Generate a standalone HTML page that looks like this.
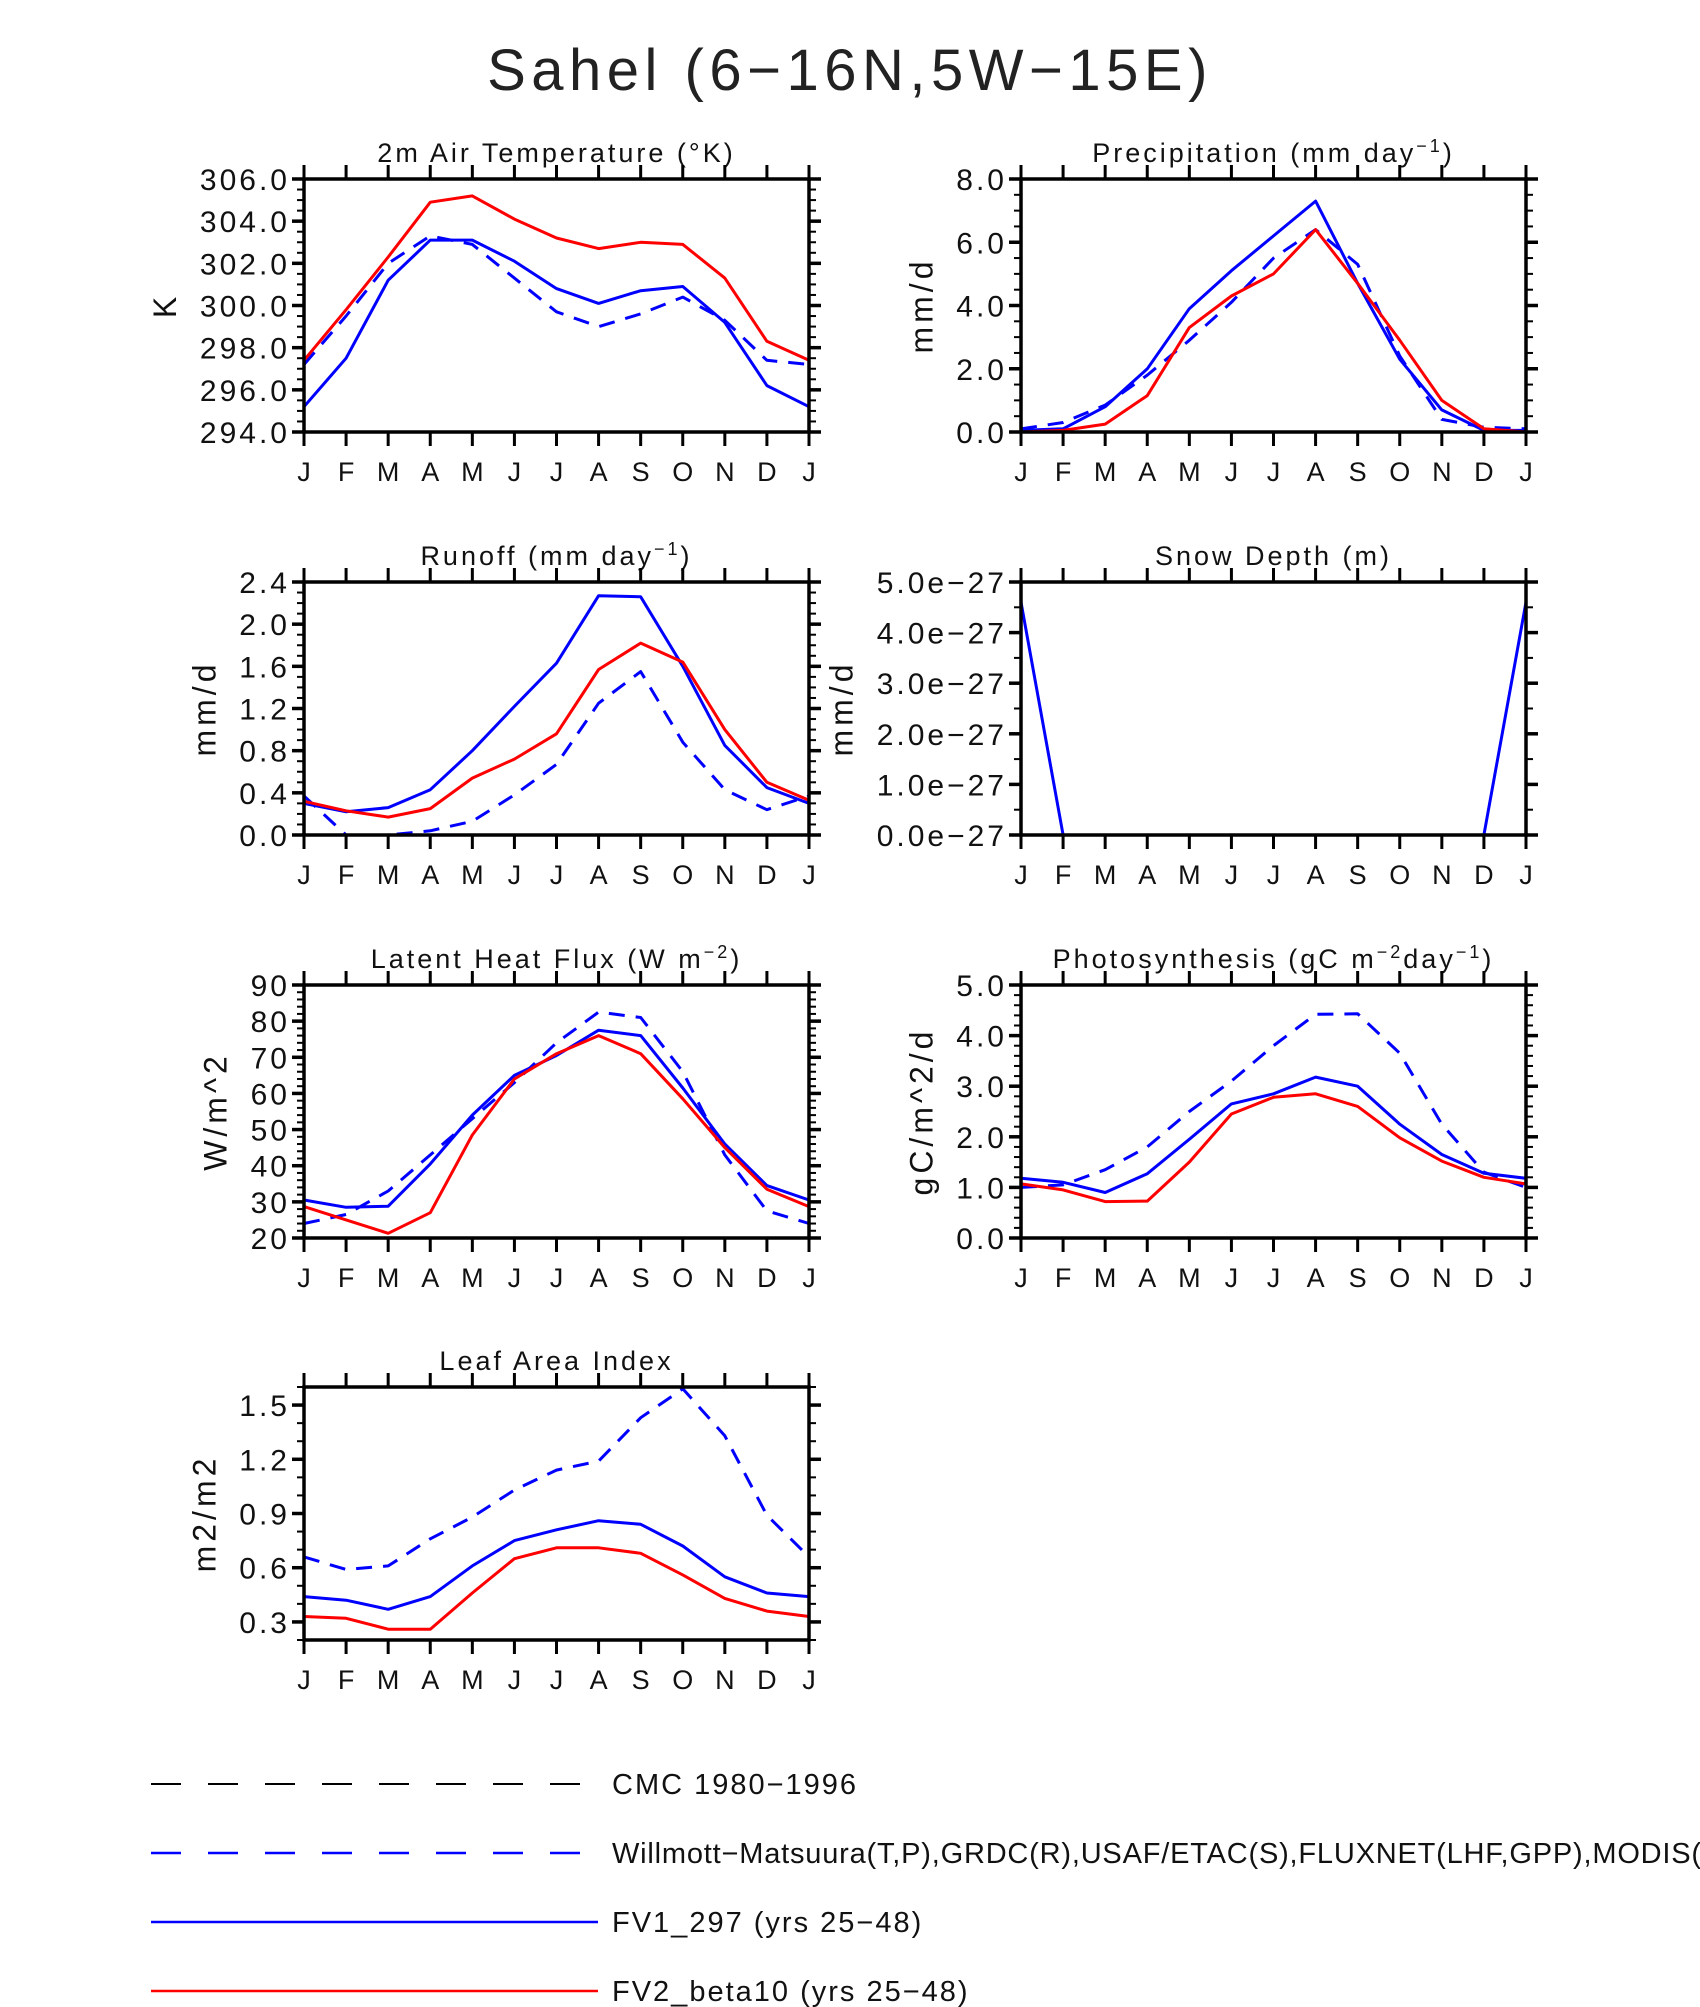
<!DOCTYPE html>
<html><head><meta charset="utf-8">
<style>
html,body{margin:0;padding:0;background:#fff;}
svg{display:block;font-family:"Liberation Sans","DejaVu Sans",sans-serif;}
</style></head>
<body>
<svg id="fig" width="1700" height="2007" viewBox="0 0 1700 2007" xmlns="http://www.w3.org/2000/svg">
<text x="850" y="90" text-anchor="middle" font-size="58" fill="#222" letter-spacing="5.5">Sahel (6−16N,5W−15E)</text>
<g id="panels"></g>
<g id="legend">
  <line x1="151" y1="1784" x2="598" y2="1784" stroke="#000" stroke-width="2" stroke-dasharray="30,27"/>
  <text x="612" y="1794" font-size="29" fill="#111" letter-spacing="2">CMC 1980−1996</text>
  <line x1="151" y1="1853" x2="598" y2="1853" stroke="#0000ff" stroke-width="2.5" stroke-dasharray="30,27"/>
  <text x="612" y="1863" font-size="29" fill="#111" letter-spacing="0.8">Willmott−Matsuura(T,P),GRDC(R),USAF/ETAC(S),FLUXNET(LHF,GPP),MODIS(LAI)</text>
  <line x1="151" y1="1922" x2="598" y2="1922" stroke="#0000ff" stroke-width="2.5"/>
  <text x="612" y="1932" font-size="29" fill="#111" letter-spacing="2">FV1_297 (yrs 25−48)</text>
  <line x1="151" y1="1991" x2="598" y2="1991" stroke="#ff0000" stroke-width="2.5"/>
  <text x="612" y="2001" font-size="29" fill="#111" letter-spacing="2">FV2_beta10 (yrs 25−48)</text>
</g>
</svg>
<script>
const months = ["J","F","M","A","M","J","J","A","S","O","N","D","J"];
// Temperature (K)
const tsaFv1 = [295.2,297.5,301.2,303.1,303.1,302.1,300.8,300.1,300.7,300.9,299.2,296.2,295.2];
const tsaFv2 = [297.4,299.8,302.3,304.9,305.2,304.1,303.2,302.7,303.0,302.9,301.3,298.3,297.4];
const tsaObs = [297.2,299.5,302.0,303.3,302.9,301.3,299.7,299.0,299.6,300.4,299.3,297.4,297.2];
// Precipitation
const preFv1 = [0.05,0.1,0.8,2.0,3.9,5.1,6.2,7.3,4.7,2.3,0.7,0.05,0.05];
const preFv2 = [0.0,0.05,0.25,1.15,3.3,4.3,5.0,6.4,4.7,2.9,1.0,0.1,0.0];
const preObs = [0.1,0.3,0.85,1.8,2.9,4.1,5.5,6.4,5.3,2.4,0.4,0.15,0.1];
// Runoff
const rofFv1 = [0.30,0.22,0.26,0.43,0.80,1.22,1.63,2.27,2.26,1.60,0.85,0.45,0.30];
const rofFv2 = [0.32,0.23,0.17,0.25,0.54,0.72,0.96,1.57,1.82,1.64,1.00,0.50,0.33];
const rofObs = [0.37,0.0,0.0,0.04,0.13,0.38,0.67,1.25,1.55,0.88,0.43,0.24,0.37];
// Snow depth (units of 1e-27 m)
const snoFv1 = [4.6,0,0,0,0,0,0,0,0,0,0,0,4.6];
const snoFv2 = [0,0,0,0,0,0,0,0,0,0,0,0,0];
// Latent heat flux
const lhfFv1 = [30.5,28.5,28.8,40.5,54,65,70.5,77.5,76,61.5,46,34.5,30.5];
const lhfFv2 = [28.7,25,21.3,27,48.5,64,71,76,71,58.5,45,33.5,28.7];
const lhfObs = [24,26.5,33,43,53,63,74,82.5,81,66,43,27.5,24];
// Photosynthesis
const gppFv1 = [1.18,1.1,0.9,1.27,1.95,2.65,2.85,3.18,3.0,2.25,1.65,1.28,1.18];
const gppFv2 = [1.07,0.95,0.72,0.73,1.5,2.45,2.78,2.85,2.6,1.98,1.52,1.2,1.07];
const gppObs = [1.0,1.05,1.35,1.8,2.5,3.1,3.8,4.42,4.43,3.65,2.25,1.3,1.0];
// Leaf area index
const laiFv1 = [0.44,0.42,0.37,0.44,0.61,0.75,0.81,0.86,0.84,0.72,0.55,0.46,0.44];
const laiFv2 = [0.33,0.32,0.26,0.26,0.46,0.65,0.71,0.71,0.68,0.56,0.43,0.36,0.33];
const laiObs = [0.66,0.59,0.61,0.76,0.88,1.03,1.14,1.19,1.43,1.59,1.33,0.89,0.66];

const NS="http://www.w3.org/2000/svg";
function mk(tag, attrs, parent){const e=document.createElementNS(NS,tag);for(const k in attrs)e.setAttribute(k,attrs[k]);if(parent)parent.appendChild(e);return e;}

const panels=[
 {key:"temperature",title:['2m Air Temperature (°K)'],ylab:"K",x:304,y:179,min:294,max:306,maj:2,min2:0.5,fmt:v=>v.toFixed(1),series:[[tsaObs,"#0000ff",true],[tsaFv1,"#0000ff",false],[tsaFv2,"#ff0000",false]]},
 {key:"precipitation",title:['Precipitation (mm day','−1',')'],ylab:"mm/d",x:1021,y:179,min:0,max:8,maj:2,min2:0.5,fmt:v=>v.toFixed(1),series:[[preObs,"#0000ff",true],[preFv1,"#0000ff",false],[preFv2,"#ff0000",false]]},
 {key:"runoff",title:['Runoff (mm day','−1',')'],ylab:"mm/d",x:304,y:582,min:0,max:2.4,maj:0.4,min2:0.1,fmt:v=>v.toFixed(1),series:[[rofObs,"#0000ff",true],[rofFv1,"#0000ff",false],[rofFv2,"#ff0000",false]]},
 {key:"snow-depth",title:['Snow Depth (m)'],ylab:"mm/d",x:1021,y:582,min:0,max:5,maj:1,min2:0.5,fmt:v=>v.toFixed(1)+"e−27",series:[[snoFv2,"#ff0000",false],[snoFv1,"#0000ff",false]]},
 {key:"latent-heat",title:['Latent Heat Flux (W m','−2',')'],ylab:"W/m^2",x:304,y:985,min:20,max:90,maj:10,min2:2,fmt:v=>v.toFixed(0),series:[[lhfObs,"#0000ff",true],[lhfFv1,"#0000ff",false],[lhfFv2,"#ff0000",false]]},
 {key:"photosynthesis",title:['Photosynthesis (gC m','−2','day','−1',')'],ylab:"gC/m^2/d",x:1021,y:985,min:0,max:5,maj:1,min2:0.2,fmt:v=>v.toFixed(1),series:[[gppObs,"#0000ff",true],[gppFv1,"#0000ff",false],[gppFv2,"#ff0000",false]]},
 {key:"leaf-area",title:['Leaf Area Index'],ylab:"m2/m2",x:304,y:1387,min:0.2,max:1.6,maj:0.3,min2:0.1,majStart:0.3,fmt:v=>v.toFixed(1),series:[[laiObs,"#0000ff",true],[laiFv1,"#0000ff",false],[laiFv2,"#ff0000",false]]}
];
const W=505,H=253;
const root=document.getElementById("panels");
panels.forEach(p=>{
  const g=mk("g",{},root);
  
  
  const xs=i=>p.x+i*W/12;
  const ys=v=>p.y+H-(v-p.min)/(p.max-p.min)*H;
  const t=mk("text",{x:p.x+W/2,y:p.y-17,"text-anchor":"middle","font-size":27,fill:"#111","letter-spacing":3},g);
  
  
  p.title.forEach((s,i)=>{const ts=mk("tspan",{},t);ts.textContent=s;if(i%2===1){ts.setAttribute("baseline-shift","super");ts.setAttribute("font-size","18");}});
  const eps=1e-9;
  for(let v=p.min; v<=p.max+eps; v+=p.min2){
    const y=ys(v);
    mk("line",{x1:p.x-7,x2:p.x,y1:y,y2:y,stroke:"#000","stroke-width":2},g);
    mk("line",{x1:p.x+W,x2:p.x+W+7,y1:y,y2:y,stroke:"#000","stroke-width":2},g);
  }
  const start=p.majStart!==undefined?p.majStart:p.min;
  let maxw=0;
  for(let v=start; v<=p.max+eps; v+=p.maj){
    const y=ys(v);
    mk("line",{x1:p.x-12,x2:p.x,y1:y,y2:y,stroke:"#000","stroke-width":3.5},g);
    mk("line",{x1:p.x+W,x2:p.x+W+12,y1:y,y2:y,stroke:"#000","stroke-width":3.5},g);
    const lb=mk("text",{x:p.x-14,y:y+11,"text-anchor":"end","font-size":30,fill:"#111","letter-spacing":3},g);
    
    
    lb.textContent=p.fmt(Math.round(v*1000)/1000);
    maxw=Math.max(maxw,lb.getComputedTextLength());
  }
  const yx=p.x-14-maxw-24;
  const yl=mk("text",{x:0,y:0,"text-anchor":"middle","font-size":32,fill:"#111","letter-spacing":4,transform:`translate(${yx},${p.y+H/2}) rotate(-90)`},g);
  
  
  yl.textContent=p.ylab;
  months.forEach((m,i)=>{
    const x=xs(i);
    mk("line",{x1:x,x2:x,y1:p.y+H,y2:p.y+H+14,stroke:"#000","stroke-width":3},g);
    mk("line",{x1:x,x2:x,y1:p.y-14,y2:p.y,stroke:"#000","stroke-width":3},g);
    const lb=mk("text",{x:x,y:p.y+H+49,"text-anchor":"middle","font-size":27,fill:"#111"},g);
    
    
    lb.textContent=m;
  });
  p.series.forEach(s=>{
    const pts=s[0].map((v,i)=>xs(i).toFixed(1)+","+ys(v).toFixed(1)).join(" ");
    const pl=mk("polyline",{points:pts,fill:"none",stroke:s[1],"stroke-width":3,"stroke-linejoin":"round"},g);
    if(s[2])pl.setAttribute("stroke-dasharray","16,11");
    
    
  });
  const fr=mk("rect",{x:p.x,y:p.y,width:W,height:H,fill:"none",stroke:"#000","stroke-width":3.5},g);
  
  
});
</script>
</body></html>
